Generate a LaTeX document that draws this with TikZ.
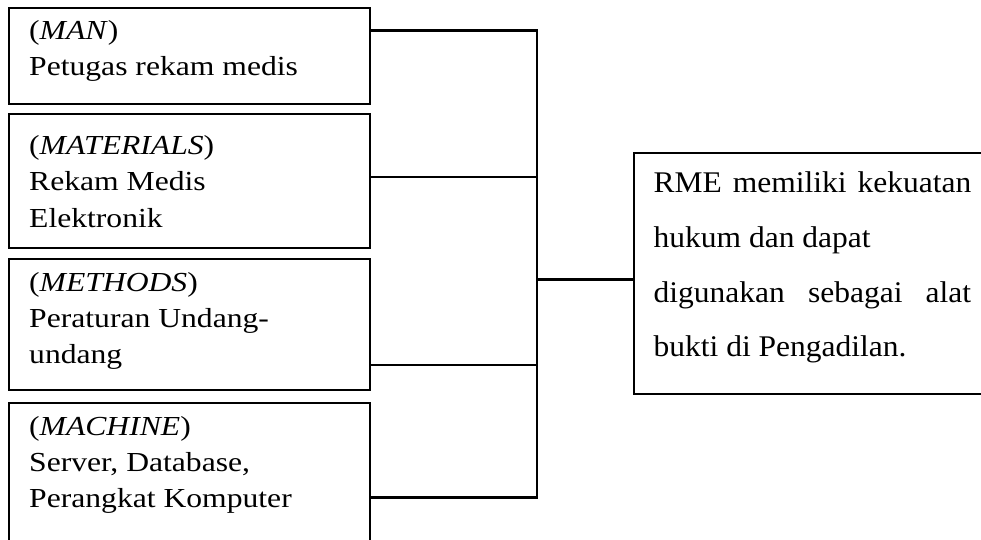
\documentclass[tikz,border=0pt]{standalone}
\usepackage{fontspec}
\setmainfont{Liberation Serif}
\newfontfamily\leftfont{Liberation Serif}[FakeStretch=1.15]
\newfontfamily\rightfont{Liberation Serif}[FakeStretch=1.05]
\begin{document}
\begin{tikzpicture}[x=1pt,y=-1pt,
  box/.style={draw, line width=2.3pt, rectangle, inner sep=0pt, anchor=north west},
  lbl/.style={anchor=base west, inner sep=0pt},
  link/.style={line width=2.3pt}]
\clip (0,0) rectangle (981,539);
\fill[white] (0,0) rectangle (981,539);
% left boxes
\node[box, minimum width=361pt, minimum height=96pt] (b1) at (7.5,6.5) {};
\node[box, minimum width=361pt, minimum height=134pt] (b2) at (7.5,113) {};
\node[box, minimum width=361pt, minimum height=131.5pt] (b3) at (7.5,257.5) {};
\node[box, minimum width=361pt, minimum height=170pt] (b4) at (7.5,401.5) {};
% right box
\node[box, minimum width=380pt, minimum height=241pt] (r) at (632.5,152) {};
% texts
\node[lbl] (t1) at (29,39) {\parbox[t]{330pt}{\leftfont\fontsize{27.5}{36}\selectfont\raggedright (\textit{MAN})\\Petugas rekam medis}};
\node[lbl] (t2) at (29,154) {\parbox[t]{330pt}{\leftfont\fontsize{27.5}{36.5}\selectfont\raggedright (\textit{MATERIALS})\\Rekam Medis\\Elektronik}};
\node[lbl] (t3) at (29,291) {\parbox[t]{330pt}{\leftfont\fontsize{27.5}{36}\selectfont\raggedright (\textit{METHODS})\\Peraturan Undang-\\undang}};
\node[lbl] (t4) at (29,435) {\parbox[t]{330pt}{\leftfont\fontsize{27.5}{36}\selectfont\raggedright (\textit{MACHINE})\\Server, Database,\\Perangkat Komputer}};
\node[lbl] (tr) at (653.5,192.7) {\parbox[t]{317.5pt}{\rightfont\fontsize{30}{54.7}\selectfont
  \makebox[317.5pt][s]{RME memiliki kekuatan}\\
  hukum dan dapat\\
  \makebox[317.5pt][s]{digunakan sebagai alat}\\
  bukti di Pengadilan.}};
% connectors
\coordinate (j1) at (537,30.5);
\coordinate (j2) at (537,177);
\coordinate (j3) at (537,365);
\coordinate (j4) at (537,497.5);
\coordinate (jm) at (537,279.5);
\draw[link] (b1.east |- j1) -- (j1);
\draw[link] (b2.east |- j2) -- (j2);
\draw[link] (b3.east |- j3) -- (j3);
\draw[link] (b4.east |- j4) -- (j4);
\draw[link] ([yshift=1.15pt]j1) -- ([yshift=-1.15pt]j4);
\draw[link] (jm) -- (r.west |- jm);
\end{tikzpicture}
\end{document}
